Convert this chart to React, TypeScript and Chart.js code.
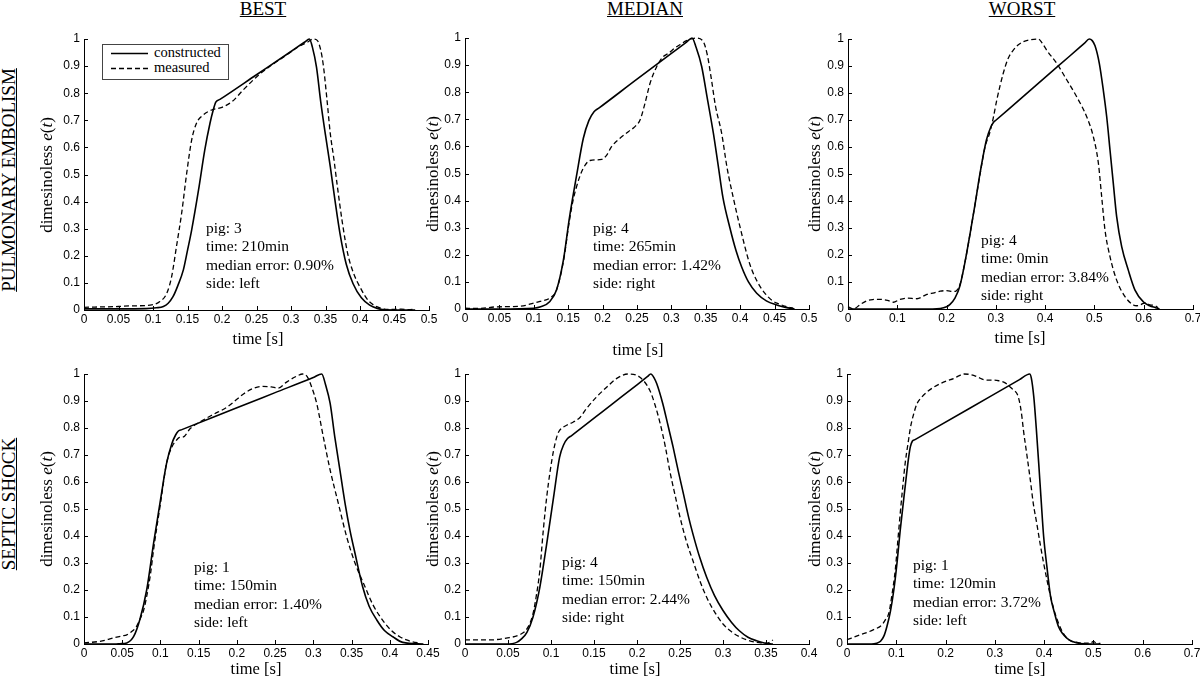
import React, { useEffect, useRef } from "react";
import { Chart, registerables } from "chart.js";
Chart.register(...registerables);

// ---------- DATA ----------
const colTitles = ["BEST", "MEDIAN", "WORST"];
const rowTitles = ["PULMONARY EMBOLISM", "SEPTIC SHOCK"];
const seriesNames = ["constructed", "measured"];
const yTitleText = "dimesinoless";
const xTitleText = "time [s]";

// panel 1: PE best
const p1ConT = [0, 0.05, 0.09, 0.105, 0.115, 0.122, 0.129, 0.136, 0.144, 0.15, 0.156, 0.166, 0.175, 0.1826, 0.187, 0.191, 0.197, 0.25, 0.3, 0.32, 0.3266, 0.331, 0.337, 0.343, 0.35, 0.357, 0.364, 0.371, 0.38, 0.39, 0.402, 0.414, 0.425, 0.435, 0.48];
const p1ConV = [0.004, 0.004, 0.005, 0.008, 0.013, 0.025, 0.049, 0.09, 0.148, 0.22, 0.295, 0.443, 0.59, 0.689, 0.735, 0.767, 0.777, 0.868, 0.954, 0.989, 1.0, 0.97, 0.895, 0.77, 0.645, 0.528, 0.4, 0.282, 0.17, 0.097, 0.045, 0.018, 0.006, 0.001, 0.0];
const p1MeaT = [0, 0.05, 0.0667, 0.0957, 0.11, 0.12, 0.127, 0.134, 0.1415, 0.1488, 0.156, 0.163, 0.173, 0.185, 0.2, 0.215, 0.23, 0.25, 0.27, 0.29, 0.31, 0.325, 0.332, 0.338, 0.343, 0.347, 0.352, 0.357, 0.362, 0.367, 0.374, 0.382, 0.39, 0.402, 0.412, 0.422, 0.432, 0.44, 0.46, 0.47, 0.48];
const p1MeaV = [0.01, 0.013, 0.015, 0.018, 0.031, 0.062, 0.123, 0.234, 0.357, 0.504, 0.627, 0.689, 0.72, 0.738, 0.748, 0.77, 0.81, 0.86, 0.9, 0.935, 0.97, 0.99, 1.0, 0.995, 0.96, 0.9, 0.78, 0.65, 0.56, 0.46, 0.33, 0.21, 0.14, 0.075, 0.035, 0.015, 0.006, 0.002, 0.003, 0.001, 0.004];

// panel 2: PE median
const p2ConT = [0, 0.05, 0.1, 0.11, 0.123, 0.133, 0.143, 0.152, 0.162, 0.172, 0.18, 0.1875, 0.195, 0.25, 0.3, 0.322, 0.33, 0.336, 0.344, 0.352, 0.361, 0.368, 0.375, 0.385, 0.394, 0.402, 0.412, 0.424, 0.438, 0.453, 0.466, 0.479];
const p2ConV = [0, 0, 0.003, 0.008, 0.027, 0.07, 0.18, 0.34, 0.49, 0.63, 0.695, 0.728, 0.742, 0.848, 0.943, 0.985, 1.0, 0.965, 0.895, 0.78, 0.649, 0.53, 0.41, 0.3, 0.215, 0.156, 0.1, 0.058, 0.03, 0.015, 0.006, 0.0];
const p2MeaT = [0, 0.02, 0.046, 0.08, 0.1, 0.109, 0.126, 0.133, 0.143, 0.152, 0.157, 0.162, 0.167, 0.172, 0.1817, 0.1987, 0.206, 0.213, 0.2253, 0.2374, 0.247, 0.2544, 0.2616, 0.269, 0.2786, 0.288, 0.2955, 0.305, 0.314, 0.322, 0.336, 0.346, 0.352, 0.358, 0.364, 0.373, 0.381, 0.39, 0.4, 0.414, 0.425, 0.436, 0.447, 0.455, 0.466, 0.477];
const p2MeaV = [0.003, 0.002, 0.008, 0.01, 0.022, 0.028, 0.045, 0.07, 0.175, 0.33, 0.4, 0.45, 0.49, 0.52, 0.548, 0.552, 0.568, 0.599, 0.63, 0.654, 0.673, 0.697, 0.759, 0.833, 0.894, 0.931, 0.943, 0.963, 0.978, 0.99, 1.0, 0.988, 0.94, 0.85, 0.75, 0.649, 0.52, 0.41, 0.3, 0.165, 0.1, 0.058, 0.03, 0.02, 0.01, 0.003];

// panel 3: PE worst
const p3ConT = [0, 0.15, 0.187, 0.2, 0.207, 0.217, 0.227, 0.237, 0.248, 0.258, 0.268, 0.281, 0.29, 0.295, 0.3, 0.35, 0.4, 0.45, 0.48, 0.4894, 0.4955, 0.5012, 0.5099, 0.518, 0.5249, 0.5316, 0.5383, 0.5451, 0.5553, 0.5687, 0.5823, 0.599, 0.612, 0.624, 0.632];
const p3ConV = [0, 0, 0.002, 0.008, 0.017, 0.04, 0.085, 0.17, 0.282, 0.39, 0.504, 0.627, 0.675, 0.691, 0.699, 0.778, 0.858, 0.937, 0.985, 1.0, 0.994, 0.975, 0.91, 0.811, 0.712, 0.589, 0.465, 0.342, 0.231, 0.144, 0.07, 0.027, 0.012, 0.005, 0.0];
const p3MeaT = [0, 0.011, 0.025, 0.038, 0.05, 0.065, 0.08, 0.092, 0.105, 0.12, 0.14, 0.16, 0.175, 0.187, 0.2, 0.214, 0.22, 0.227, 0.237, 0.248, 0.258, 0.268, 0.278, 0.288, 0.295, 0.302, 0.315, 0.3254, 0.3354, 0.345, 0.356, 0.37, 0.386, 0.394, 0.403, 0.4234, 0.4437, 0.464, 0.4843, 0.4978, 0.508, 0.5147, 0.5214, 0.5316, 0.5451, 0.562, 0.579, 0.586, 0.592, 0.598, 0.605, 0.612, 0.619, 0.625, 0.629];
const p3MeaV = [0.009, 0.0, 0.017, 0.03, 0.035, 0.036, 0.032, 0.025, 0.035, 0.04, 0.038, 0.054, 0.06, 0.066, 0.068, 0.065, 0.068, 0.09, 0.17, 0.282, 0.39, 0.5, 0.6, 0.655, 0.71, 0.775, 0.873, 0.93, 0.959, 0.978, 0.99, 0.997, 1.0, 0.985, 0.959, 0.91, 0.849, 0.786, 0.712, 0.638, 0.54, 0.416, 0.293, 0.194, 0.107, 0.046, 0.015, 0.012, 0.014, 0.02, 0.023, 0.015, 0.014, 0.01, 0.005];

// panel 4: SS best
const p4ConT = [0, 0.04, 0.047, 0.056, 0.065, 0.073, 0.082, 0.091, 0.1, 0.108, 0.115, 0.12, 0.1235, 0.128, 0.2, 0.25, 0.3, 0.311, 0.316, 0.322, 0.328, 0.335, 0.3415, 0.348, 0.3545, 0.3645, 0.373, 0.383, 0.393, 0.404, 0.417, 0.444];
const p4ConV = [0, 0, 0.001, 0.004, 0.028, 0.09, 0.2, 0.373, 0.533, 0.669, 0.743, 0.775, 0.789, 0.794, 0.875, 0.931, 0.987, 1.0, 0.96, 0.891, 0.768, 0.64, 0.521, 0.42, 0.336, 0.212, 0.14, 0.089, 0.05, 0.027, 0.006, 0.0];
const p4MeaT = [0, 0.021, 0.038, 0.05, 0.056, 0.062, 0.068, 0.073, 0.078, 0.082, 0.087, 0.091, 0.1, 0.108, 0.115, 0.121, 0.125, 0.13, 0.139, 0.152, 0.169, 0.187, 0.196, 0.209, 0.22, 0.232, 0.245, 0.254, 0.265, 0.279, 0.286, 0.292, 0.298, 0.3044, 0.313, 0.322, 0.3327, 0.3436, 0.3545, 0.3676, 0.378, 0.3915, 0.402, 0.413, 0.422, 0.43, 0.44];
const p4MeaV = [0.004, 0.01, 0.022, 0.03, 0.034, 0.045, 0.062, 0.09, 0.125, 0.176, 0.26, 0.349, 0.52, 0.669, 0.73, 0.755, 0.765, 0.767, 0.798, 0.823, 0.85, 0.877, 0.897, 0.927, 0.945, 0.954, 0.952, 0.948, 0.97, 0.993, 1.0, 0.99, 0.95, 0.891, 0.768, 0.644, 0.521, 0.397, 0.3, 0.212, 0.145, 0.085, 0.05, 0.027, 0.015, 0.008, 0.003];

// panel 5: SS median
const p5ConT = [0, 0.048, 0.06, 0.066, 0.072, 0.079, 0.087, 0.095, 0.103, 0.11, 0.115, 0.119, 0.124, 0.17, 0.2, 0.212, 0.216, 0.22, 0.223, 0.23, 0.236, 0.242, 0.248, 0.254, 0.26, 0.265, 0.273, 0.281, 0.29, 0.3, 0.31, 0.319, 0.329, 0.339, 0.348, 0.358];
const p5ConV = [0, 0, 0.006, 0.02, 0.043, 0.099, 0.21, 0.371, 0.544, 0.692, 0.74, 0.76, 0.772, 0.886, 0.96, 0.99, 1.0, 0.985, 0.964, 0.89, 0.81, 0.729, 0.64, 0.556, 0.47, 0.408, 0.32, 0.247, 0.18, 0.124, 0.08, 0.049, 0.025, 0.012, 0.004, 0.0];
const p5MeaT = [0, 0.029, 0.048, 0.064, 0.072, 0.079, 0.083, 0.087, 0.091, 0.095, 0.099, 0.103, 0.107, 0.11, 0.118, 0.126, 0.134, 0.141, 0.153, 0.165, 0.176, 0.19, 0.203, 0.215, 0.221, 0.227, 0.233, 0.238, 0.244, 0.25, 0.257, 0.265, 0.273, 0.281, 0.29, 0.3, 0.31, 0.319, 0.329, 0.339, 0.35, 0.355, 0.358];
const p5MeaV = [0.015, 0.015, 0.022, 0.035, 0.056, 0.111, 0.18, 0.272, 0.42, 0.544, 0.64, 0.717, 0.77, 0.791, 0.81, 0.822, 0.84, 0.871, 0.915, 0.952, 0.983, 1.0, 0.989, 0.939, 0.885, 0.816, 0.73, 0.643, 0.555, 0.47, 0.385, 0.309, 0.235, 0.173, 0.12, 0.074, 0.045, 0.027, 0.014, 0.006, 0.003, 0.008, 0.015];

// panel 6: SS worst
const p6ConT = [0, 0.05, 0.06, 0.068, 0.075, 0.081, 0.088, 0.095, 0.102, 0.108, 0.118, 0.125, 0.1285, 0.1325, 0.138, 0.25, 0.35, 0.3706, 0.374, 0.379, 0.384, 0.389, 0.394, 0.399, 0.406, 0.413, 0.421, 0.429, 0.437, 0.446, 0.456, 0.467, 0.48, 0.514];
const p6ConV = [0, 0, 0.003, 0.01, 0.03, 0.065, 0.12, 0.2, 0.31, 0.422, 0.583, 0.69, 0.73, 0.751, 0.757, 0.874, 0.979, 1.0, 0.985, 0.915, 0.8, 0.669, 0.53, 0.398, 0.28, 0.176, 0.115, 0.065, 0.04, 0.022, 0.01, 0.004, 0.001, 0.0];
const p6MeaT = [0, 0.027, 0.054, 0.071, 0.078, 0.085, 0.091, 0.098, 0.103, 0.108, 0.113, 0.118, 0.124, 0.129, 0.135, 0.142, 0.152, 0.162, 0.175, 0.189, 0.202, 0.216, 0.228, 0.237, 0.247, 0.257, 0.267, 0.277, 0.288, 0.298, 0.308, 0.318, 0.325, 0.331, 0.338, 0.345, 0.349, 0.352, 0.355, 0.358, 0.365, 0.372, 0.378, 0.385, 0.392, 0.399, 0.406, 0.413, 0.421, 0.429, 0.437, 0.446, 0.456, 0.467, 0.48, 0.494, 0.5, 0.505, 0.514];
const p6MeaV = [0.016, 0.034, 0.053, 0.071, 0.09, 0.115, 0.18, 0.275, 0.38, 0.484, 0.58, 0.669, 0.745, 0.804, 0.85, 0.89, 0.915, 0.933, 0.95, 0.964, 0.974, 0.983, 0.994, 1.0, 0.999, 0.995, 0.987, 0.979, 0.977, 0.977, 0.975, 0.97, 0.962, 0.952, 0.94, 0.927, 0.905, 0.878, 0.84, 0.792, 0.7, 0.607, 0.52, 0.447, 0.37, 0.299, 0.235, 0.176, 0.12, 0.078, 0.045, 0.022, 0.01, 0.006, 0.003, 0.003, 0.01, 0.004, 0.002];

const xMaxes = [0.5, 0.5, 0.7, 0.45, 0.4, 0.7];
const xSteps = [0.05, 0.05, 0.1, 0.05, 0.05, 0.1];
const pigs = ["pig: 3", "pig: 4", "pig: 4", "pig: 1", "pig: 4", "pig: 1"];
const times = ["time: 210min", "time: 265min", "time: 0min", "time: 150min", "time: 150min", "time: 120min"];
const errors = ["median error: 0.90%", "median error: 1.42%", "median error: 3.84%", "median error: 1.40%", "median error: 2.44%", "median error: 3.72%"];
const sides = ["side: left", "side: right", "side: right", "side: left", "side: right", "side: left"];

const conT = [p1ConT, p2ConT, p3ConT, p4ConT, p5ConT, p6ConT];
const conV = [p1ConV, p2ConV, p3ConV, p4ConV, p5ConV, p6ConV];
const meaT = [p1MeaT, p2MeaT, p3MeaT, p4MeaT, p5MeaT, p6MeaT];
const meaV = [p1MeaV, p2MeaV, p3MeaV, p4MeaV, p5MeaV, p6MeaV];

// ---------- LAYOUT ----------
const geom = [
  { L: 84, T: 39, R: 429, B: 310, ytx: 47, xtx: 258, xty: 339, ax: 206, ay: 228 },
  { L: 465, T: 38, R: 809, B: 309, ytx: 433, xtx: 638, xty: 350, ax: 593, ay: 228 },
  { L: 848, T: 39, R: 1193, B: 309, ytx: 815, xtx: 1020, xty: 338, ax: 981, ay: 240 },
  { L: 84, T: 374, R: 428, B: 644, ytx: 47, xtx: 256, xty: 669, ax: 194, ay: 567 },
  { L: 465, T: 374, R: 809, B: 644, ytx: 433, xtx: 635, xty: 669, ax: 562, ay: 562 },
  { L: 847, T: 374, R: 1192, B: 644, ytx: 815, xtx: 1020, xty: 669, ax: 913, ay: 565 },
];
const PAD_L = 50, PAD_T = 12, PAD_R = 25, PAD_B = 22;
const SERIF = "'Liberation Serif', 'Times New Roman', serif";
const SANS = "'Liberation Sans', Arial, sans-serif";

const fmt = (v: number) => String(+Number(v).toFixed(2));

const inwardTicks = {
  id: "inwardTicks",
  afterDraw(chart: any) {
    const ctx = chart.ctx;
    const xs = chart.scales.x, ys = chart.scales.y;
    const a = chart.chartArea;
    ctx.save();
    ctx.strokeStyle = "#000";
    ctx.lineWidth = 1;
    ctx.beginPath();
    xs.ticks.forEach((t: any) => {
      const px = Math.round(xs.getPixelForValue(t.value)) + 0.5;
      ctx.moveTo(px, a.bottom);
      ctx.lineTo(px, a.bottom - 4);
    });
    ys.ticks.forEach((t: any) => {
      const py = Math.round(ys.getPixelForValue(t.value)) + 0.5;
      ctx.moveTo(a.left, py);
      ctx.lineTo(a.left + 4, py);
    });
    ctx.stroke();
    ctx.restore();
  },
};

function Panel({ idx }: { idx: number }) {
  const ref = useRef<HTMLCanvasElement>(null);
  const g = geom[idx];
  const w = g.R - g.L + PAD_L + PAD_R;
  const h = g.B - g.T + PAD_T + PAD_B;
  useEffect(() => {
    const mk = (T: number[], V: number[]) => T.map((t, i) => ({ x: t, y: V[i] }));
    const chart = new Chart(ref.current as HTMLCanvasElement, {
      type: "line",
      data: {
        datasets: [
          {
            label: seriesNames[1],
            data: mk(meaT[idx], meaV[idx]),
            borderColor: "#000",
            borderWidth: 1.3,
            borderDash: [5, 3],
            pointRadius: 0,
            cubicInterpolationMode: "monotone",
            clip: false,
          },
          {
            label: seriesNames[0],
            data: mk(conT[idx], conV[idx]),
            borderColor: "#000",
            borderWidth: 1.6,
            pointRadius: 0,
            cubicInterpolationMode: "monotone",
            clip: false,
          },
        ],
      },
      options: {
        animation: false,
        responsive: false,
        events: [],
        layout: { padding: { left: 0, top: PAD_T, right: PAD_R, bottom: 0 } },
        plugins: { legend: { display: false }, tooltip: { enabled: false } },
        scales: {
          x: {
            type: "linear",
            min: 0,
            max: xMaxes[idx],
            grid: { display: false, drawTicks: false },
            border: { display: true, color: "#000", width: 1 },
            ticks: {
              stepSize: xSteps[idx],
              autoSkip: false,
              maxRotation: 0,
              padding: 2,
              color: "#000",
              font: { family: SANS, size: 12 },
              callback: (v: any) => fmt(v),
            },
            afterFit: (s: any) => { s.height = PAD_B; },
          },
          y: {
            type: "linear",
            min: 0,
            max: 1,
            grid: { display: false, drawTicks: false },
            border: { display: true, color: "#000", width: 1 },
            ticks: {
              stepSize: 0.1,
              padding: 4,
              color: "#000",
              font: { family: SANS, size: 12 },
              callback: (v: any) => fmt(v),
            },
            afterFit: (s: any) => { s.width = PAD_L; },
          },
        },
      },
      plugins: [inwardTicks],
    } as any);
    return () => chart.destroy();
  }, [idx]);
  return (
    <canvas
      ref={ref}
      width={w}
      height={h}
      style={{ position: "absolute", left: g.L - PAD_L, top: g.T - PAD_T, width: w, height: h }}
    />
  );
}

const abs = (x: number, y: number, extra: any = {}) => ({
  position: "absolute" as const,
  left: x,
  top: y,
  transform: "translate(-50%, -50%)",
  whiteSpace: "nowrap" as const,
  ...extra,
});

export default function App() {
  const colCenters = [263, 645, 1022];
  const rowCenters = [180, 504];
  return (
    <div style={{ position: "absolute", left: 0, top: 0, width: 1200, height: 680, background: "#fff", overflow: "hidden", fontFamily: SERIF, color: "#000" }}>
      {colTitles.map((t, i) => (
        <div key={t} style={abs(colCenters[i], 9, { fontSize: 19, textDecoration: "underline", lineHeight: "20px" })}>{t}</div>
      ))}
      {rowTitles.map((t, i) => (
        <div key={t} style={abs(9, rowCenters[i], { fontSize: 19, textDecoration: "underline", lineHeight: "20px", transform: "translate(-50%, -50%) rotate(-90deg)" })}>{t}</div>
      ))}
      {geom.map((g, i) => <Panel key={i} idx={i} />)}
      {geom.map((g, i) => (
        <React.Fragment key={"t" + i}>
          <div style={abs(g.ytx, (g.T + g.B) / 2, { fontSize: 17, lineHeight: "20px", transform: "translate(-50%, -50%) rotate(-90deg)" })}>
            {yTitleText} <i>e</i>(<i>t</i>)
          </div>
          <div style={abs(g.xtx, g.xty, { fontSize: 16.5, lineHeight: "20px" })}>{xTitleText}</div>
          <div style={{ position: "absolute", left: g.ax, top: g.ay - 9.5, fontSize: 15.5, lineHeight: "18.5px", whiteSpace: "nowrap" }}>
            <div>{pigs[i]}</div>
            <div>{times[i]}</div>
            <div>{errors[i]}</div>
            <div>{sides[i]}</div>
          </div>
        </React.Fragment>
      ))}
      <div style={{ position: "absolute", left: 102, top: 44, width: 125, height: 34, border: "1px solid #444", background: "#fff" }}>
        <svg width={40} height={34} style={{ position: "absolute", left: 7, top: 0 }}>
          <line x1={1} y1={8.5} x2={38} y2={8.5} stroke="#000" strokeWidth={1.6} />
          <line x1={1} y1={23.5} x2={38} y2={23.5} stroke="#000" strokeWidth={1.3} strokeDasharray="5 3" />
        </svg>
        <div style={{ position: "absolute", left: 51, top: 0, fontSize: 14.5, lineHeight: "15px", whiteSpace: "nowrap" }}>
          <div>{seriesNames[0]}</div>
          <div>{seriesNames[1]}</div>
        </div>
      </div>
    </div>
  );
}
